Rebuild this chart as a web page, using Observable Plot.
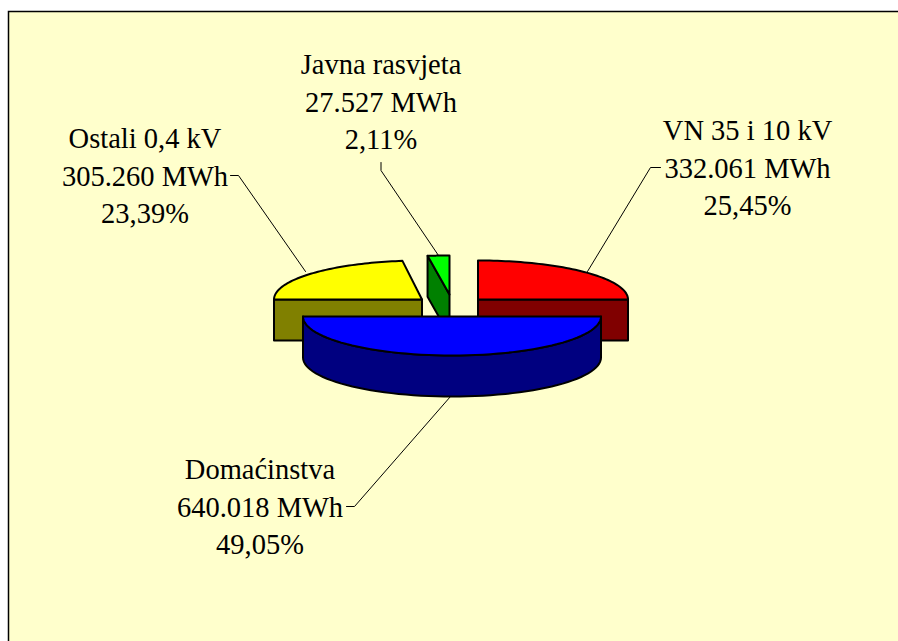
<!DOCTYPE html>
<html>
<head>
<meta charset="utf-8">
<script src="https://cdn.jsdelivr.net/npm/d3@7"></script>
<script src="https://cdn.jsdelivr.net/npm/@observablehq/plot@0.6"></script>
<style>html,body{margin:0;padding:0;background:#fff;overflow:hidden}svg{overflow:hidden;display:block}</style>
</head>
<body>
<div id="chart"></div>
<script>
// Data
const categories = ["VN 35 i 10 kV", "Domaćinstva", "Ostali 0,4 kV", "Javna rasvjeta"];
const energyMWh = ["332.061", "640.018", "305.260", "27.527"];
const sharePct = [25.45, 49.05, 23.39, 2.11];
const shareText = ["25,45%", "49,05%", "23,39%", "2,11%"];

// Appearance of each slice
const topColors = ["#ff0000", "#0000ff", "#ffff00", "#00ff00"];
const wallColors = ["#800000", "#000080", "#808000", "#008000"];
// Exploded slice apex on the canvas
const apexX = [477.5, 451.5, 421.5, 449];
const apexY = [299, 316, 299, 294];
const radiusX = [150, 149, 148, 166];
const drawOrder = [0, 2, 3, 1];
const ry = 39, depth = 41;

// Labels and their leader lines
const labelX = [747, 259.5, 144.5, 380.5];
const labelY = [165, 504, 173, 99];
const leaders = [
  [[660, 167], [650, 167], [587, 271]],
  [[346, 506], [354, 506], [450, 396]],
  [[230, 175], [238, 175], [305, 271]],
  [[380.5, 162], [380.5, 170], [438, 255]]
];

// Slice angles come from the shares, clockwise from 12 o'clock
const snap = a => [Math.PI / 2, 3 * Math.PI / 2].find(t => Math.abs(a - t) < 0.05) ?? a;
const arcs = d3.pie().sort(null)(sharePct).map(d => ({s: snap(d.startAngle), e: snap(d.endAngle)}));
const pt = (i, a, dz = 0) => ({
  x: apexX[i] + radiusX[i] * Math.sin(a),
  y: apexY[i] - ry * Math.cos(a) + dz
});
const arcPts = (i, a0, a1, dz = 0) =>
  d3.range(0, 61).map(k => pt(i, a0 + (a1 - a0) * k / 60, dz));

const polys = [];
for (const i of drawOrder) {
  const {s, e} = arcs[i];
  const c = {x: apexX[i], y: apexY[i]};
  const cLow = {x: c.x, y: c.y + depth};
  const wall = wallColors[i];
  // visible cut faces
  if (s > Math.PI && s < 2 * Math.PI) polys.push({fill: wall, pts: [c, pt(i, s), pt(i, s, depth), cLow]});
  if (e > 1e-6 && e < Math.PI) polys.push({fill: wall, pts: [c, pt(i, e), pt(i, e, depth), cLow]});
  // visible rim
  const a0 = Math.max(s, Math.PI / 2), a1 = Math.min(e, 3 * Math.PI / 2);
  if (a1 > a0) polys.push({fill: wall, pts: [...arcPts(i, a0, a1), ...arcPts(i, a1, a0, depth)]});
  // top
  polys.push({fill: topColors[i], pts: [c, ...arcPts(i, s, e)]});
}

const labels = categories.map((c, i) => ({
  text: `${c}\n${energyMWh[i]} MWh\n${shareText[i]}`, x: labelX[i], y: labelY[i]
}));

const plot = Plot.plot({
  width: 898, height: 641,
  marginLeft: 8, marginTop: 11, marginRight: 0, marginBottom: 0,
  x: {axis: null, domain: [8, 898], range: [8, 898]},
  y: {axis: null, domain: [11, 641], range: [11, 641]},
  style: {background: "white", fontFamily: "Liberation Serif"},
  marks: [
    Plot.frame({fill: "#ffffcc", stroke: "#000", strokeWidth: 1.5, insetRight: -5, insetBottom: -5}),
    ...leaders.map(l => Plot.line(l, {x: d => d[0], y: d => d[1], stroke: "#000", strokeWidth: 1})),
    ...polys.map(p => Plot.line(p.pts, {
      x: "x", y: "y", fill: p.fill, stroke: "#000", strokeWidth: 2,
      curve: "linear-closed", strokeLinejoin: "round"
    })),
    Plot.text(labels, {
      x: "x", y: "y", text: "text", fontSize: 28.5, lineHeight: 1.316,
      textAnchor: "middle", lineAnchor: "middle", fill: "#000"
    })
  ]
});
document.getElementById("chart").appendChild(plot);
</script>
</body>
</html>
